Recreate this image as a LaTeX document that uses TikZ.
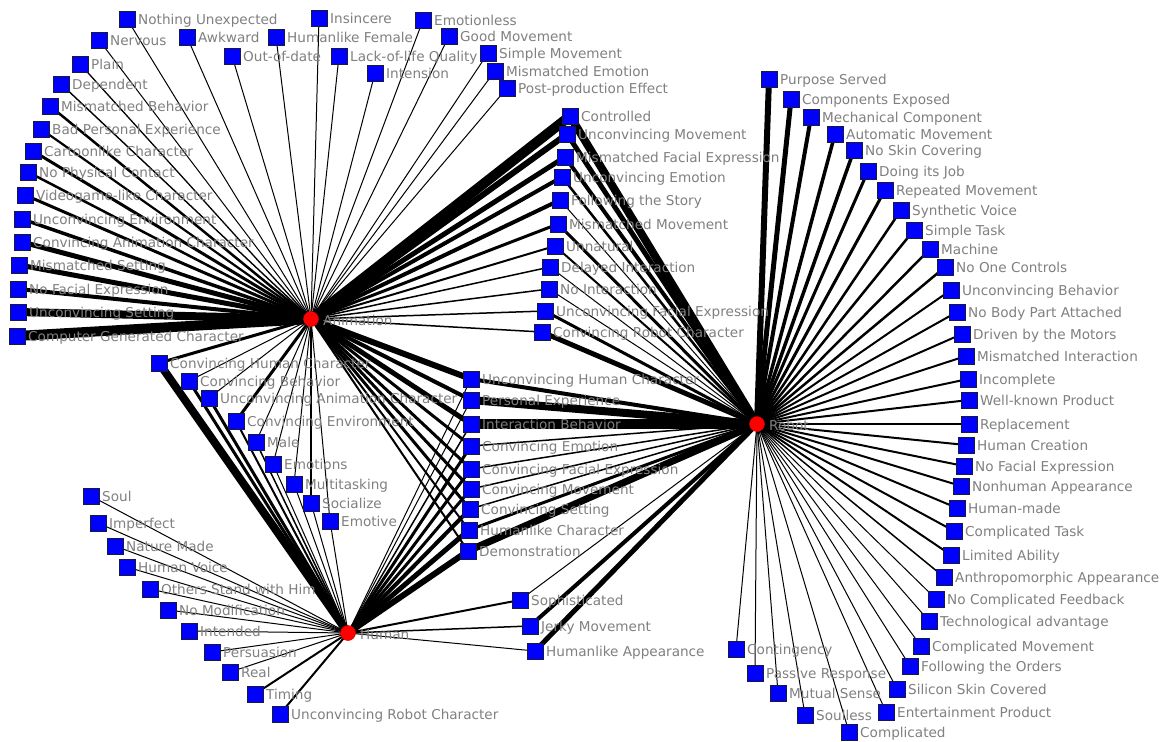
\documentclass[tikz,border=0pt]{standalone}
\usepackage{fontspec}
\setmainfont{DejaVu Sans}
\pgfdeclarelayer{bg}
\pgfsetlayers{bg,main}
\definecolor{sqblue}{RGB}{0,0,255}
\definecolor{sqedge}{RGB}{25,25,60}
\definecolor{labgray}{RGB}{128,128,128}
\tikzset{
  sq/.style={rectangle, minimum size=16pt, inner sep=0pt, fill=sqblue, draw=sqedge, line width=0.9pt},
  hub/.style={circle, minimum size=15pt, inner sep=0pt, fill=red, draw=red!85!black, line width=0.5pt},
  lab/.style={anchor=base west, inner sep=0pt, text=labgray, font=\fontsize{13.6}{16}\selectfont},
  edge/.style={draw=black, line cap=butt}
}
\newcommand\leaf[4]{\node[sq] (#1) at (#2,#3) {}; \node[lab] (#1-t) at (#2+11,#3+5) {#4};}
\newcommand\ed[3]{\draw[edge, line width=#3pt] (#1.center) -- (#2.center);}
\begin{document}
\begin{tikzpicture}[x=1pt,y=-1pt]
\useasboundingbox (0,0) rectangle (1171,742);
% hubs
\node[hub] (anim) at (311,319) {};
\node[lab] (anim-t) at (311+12,319+6) {Animation};
\node[hub] (robot) at (757,424) {};
\node[lab] (robot-t) at (757+12,424+6) {Robot};
\node[hub] (human) at (348,633) {};
\node[lab] (human-t) at (348+12,633+6) {Human};
% Animation only
\leaf{a1}{127}{19}{Nothing Unexpected}
\leaf{a2}{99}{40}{Nervous}
\leaf{a3}{187}{37}{Awkward}
\leaf{a4}{276}{37}{Humanlike Female}
\leaf{a5}{319}{18}{Insincere}
\leaf{a6}{232}{56}{Out-of-date}
\leaf{a7}{339}{56}{Lack-of-life Quality}
\leaf{a8}{423}{20}{Emotionless}
\leaf{a9}{449}{36}{Good Movement}
\leaf{a10}{375}{73}{Intension}
\leaf{a11}{488}{53}{Simple Movement}
\leaf{a12}{495}{71}{Mismatched Emotion}
\leaf{a13}{507}{88}{Post-production Effect}
\leaf{a14}{80}{64}{Plain}
\leaf{a15}{61}{84}{Dependent}
\leaf{a16}{50}{106}{Mismatched Behavior}
\leaf{a17}{41}{129}{Bad Personal Experience}
\leaf{a18}{33}{151}{Cartoonlike Character}
\leaf{a19}{28}{172}{No Physical Contact}
\leaf{a20}{25}{195}{Videogame-like Character}
\leaf{a21}{22}{219}{Unconvincing Environment}
\leaf{a22}{22}{242}{Convincing Animation Character}
\leaf{a23}{19}{265}{Mismatched Setting}
\leaf{a24}{18}{289}{No Facial Expression}
\leaf{a25}{18}{312}{Unconvincing Setting}
\leaf{a26}{17}{336}{Computer Generated Character}
% Animation & Robot
\leaf{ar1}{570}{116}{Controlled}
\leaf{ar2}{567}{134}{Unconvincing Movement}
\leaf{ar3}{565}{157}{Mismatched Facial Expression}
\leaf{ar4}{562}{177}{Unconvincing Emotion}
\leaf{ar5}{560}{200}{Following the Story}
\leaf{ar6}{558}{224}{Mismatched Movement}
\leaf{ar7}{555}{246}{Unnatural}
\leaf{ar8}{550}{267}{Delayed Interaction}
\leaf{ar9}{549}{289}{No Interaction}
\leaf{ar10}{545}{311}{Unconvincing Facial Expression}
\leaf{ar11}{542}{332}{Convincing Robot Character}
% Animation & Human
\leaf{ah1}{159}{363}{Convincing Human Character}
\leaf{ah2}{189}{381}{Convincing Behavior}
\leaf{ah3}{209}{398}{Unconvincing Animation Character}
\leaf{ah4}{236}{421}{Convincing Environment}
\leaf{ah5}{256}{442}{Male}
\leaf{ah6}{273}{464}{Emotions}
\leaf{ah7}{294}{484}{Multitasking}
\leaf{ah8}{311}{503}{Socialize}
\leaf{ah9}{330}{521}{Emotive}
% all three
\leaf{m1}{471}{379}{Unconvincing Human Character}
\leaf{m2}{471}{400}{Personal Experience}
\leaf{m3}{471}{424}{Interaction Behavior}
\leaf{m4}{471}{446}{Convincing Emotion}
\leaf{m5}{471}{469}{Convincing Facial Expression}
\leaf{m6}{471}{489}{Convincing Movement}
\leaf{m7}{470}{509}{Convincing Setting}
\leaf{m8}{469}{530}{Humanlike Character}
\leaf{m9}{468}{551}{Demonstration}
% Human only
\leaf{h1}{91}{496}{Soul}
\leaf{h2}{98}{523}{Imperfect}
\leaf{h3}{115}{546}{Nature Made}
\leaf{h4}{127}{567}{Human Voice}
\leaf{h5}{150}{589}{Others Stand with Him}
\leaf{h6}{168}{610}{No Modification}
\leaf{h7}{189}{631}{Intended}
\leaf{h8}{212}{652}{Persuasion}
\leaf{h9}{230}{672}{Real}
\leaf{h10}{255}{694}{Timing}
\leaf{h11}{280}{714}{Unconvincing Robot Character}
% Human & Robot
\leaf{hr1}{520}{600}{Sophisticated}
\leaf{hr2}{530}{626}{Jerky Movement}
\leaf{hr3}{535}{651}{Humanlike Appearance}
% Robot only
\leaf{r1}{769}{79}{Purpose Served}
\leaf{r2}{791}{99}{Components Exposed}
\leaf{r3}{811}{117}{Mechanical Component}
\leaf{r4}{835}{134}{Automatic Movement}
\leaf{r5}{854}{150}{No Skin Covering}
\leaf{r6}{868}{171}{Doing its Job}
\leaf{r7}{885}{190}{Repeated Movement}
\leaf{r8}{901}{210}{Synthetic Voice}
\leaf{r9}{914}{230}{Simple Task}
\leaf{r10}{930}{249}{Machine}
\leaf{r11}{945}{267}{No One Controls}
\leaf{r12}{951}{290}{Unconvincing Behavior}
\leaf{r13}{957}{312}{No Body Part Attached}
\leaf{r14}{962}{334}{Driven by the Motors}
\leaf{r15}{966}{356}{Mismatched Interaction}
\leaf{r16}{968}{379}{Incomplete}
\leaf{r17}{969}{400}{Well-known Product}
\leaf{r18}{969}{424}{Replacement}
\leaf{r19}{966}{445}{Human Creation}
\leaf{r20}{964}{466}{No Facial Expression}
\leaf{r21}{961}{486}{Nonhuman Appearance}
\leaf{r22}{957}{508}{Human-made}
\leaf{r23}{954}{531}{Complicated Task}
\leaf{r24}{951}{555}{Limited Ability}
\leaf{r25}{944}{577}{Anthropomorphic Appearance}
\leaf{r26}{936}{599}{No Complicated Feedback}
\leaf{r27}{929}{621}{Technological advantage}
\leaf{r28}{921}{646}{Complicated Movement}
\leaf{r29}{910}{666}{Following the Orders}
\leaf{r30}{897}{689}{Silicon Skin Covered}
\leaf{r31}{886}{712}{Entertainment Product}
\leaf{r32}{849}{732}{Complicated}
\leaf{r33}{805}{715}{Soulless}
\leaf{r34}{778}{693}{Mutual Sense}
\leaf{r35}{755}{673}{Passive Response}
\leaf{r36}{736}{649}{Contingency}
\begin{pgfonlayer}{bg}
\fill[white] (0,0) rectangle (1171,742);
% Animation edges
\ed{anim}{a1}{1}\ed{anim}{a2}{1}\ed{anim}{a3}{1}\ed{anim}{a4}{1}\ed{anim}{a5}{1}
\ed{anim}{a6}{1}\ed{anim}{a7}{1}\ed{anim}{a8}{1}\ed{anim}{a9}{1}\ed{anim}{a10}{1}
\ed{anim}{a11}{1}\ed{anim}{a12}{1}\ed{anim}{a13}{1}\ed{anim}{a14}{1.3}\ed{anim}{a15}{1.4}
\ed{anim}{a16}{2.5}\ed{anim}{a17}{2.2}\ed{anim}{a18}{3}\ed{anim}{a19}{2.5}\ed{anim}{a20}{3}
\ed{anim}{a21}{3.5}\ed{anim}{a22}{5}\ed{anim}{a23}{5}\ed{anim}{a24}{4}\ed{anim}{a25}{8}
\ed{anim}{a26}{10}
% Animation & Robot
\ed{anim}{ar1}{10}\ed{robot}{ar1}{8}
\ed{anim}{ar2}{6}\ed{robot}{ar2}{5}
\ed{anim}{ar3}{5}\ed{robot}{ar3}{4}
\ed{anim}{ar4}{4}\ed{robot}{ar4}{2.5}
\ed{anim}{ar5}{4}\ed{robot}{ar5}{1}
\ed{anim}{ar6}{3}\ed{robot}{ar6}{3}
\ed{anim}{ar7}{2}\ed{robot}{ar7}{2}
\ed{anim}{ar8}{1.5}\ed{robot}{ar8}{1}
\ed{anim}{ar9}{1.5}\ed{robot}{ar9}{1}
\ed{anim}{ar10}{1.5}\ed{robot}{ar10}{3}
\ed{anim}{ar11}{1.5}\ed{robot}{ar11}{5}
% Animation & Human
\ed{anim}{ah1}{3}\ed{human}{ah1}{8}
\ed{anim}{ah2}{1}\ed{human}{ah2}{3}
\ed{anim}{ah3}{1}\ed{human}{ah3}{3}
\ed{anim}{ah4}{3}\ed{human}{ah4}{2}
\ed{anim}{ah5}{1}\ed{human}{ah5}{1.5}
\ed{anim}{ah6}{1}\ed{human}{ah6}{1}
\ed{anim}{ah7}{1}\ed{human}{ah7}{1}
\ed{anim}{ah8}{1.5}\ed{human}{ah8}{1}
\ed{anim}{ah9}{1}\ed{human}{ah9}{1}
% three-way
\ed{anim}{m1}{6}\ed{robot}{m1}{4}\ed{human}{m1}{1}
\ed{anim}{m2}{4}\ed{robot}{m2}{8}\ed{human}{m2}{1}
\ed{anim}{m3}{5}\ed{robot}{m3}{10}\ed{human}{m3}{1.5}
\ed{anim}{m4}{3}\ed{robot}{m4}{1.5}\ed{human}{m4}{3}
\ed{anim}{m5}{3}\ed{robot}{m5}{1.5}\ed{human}{m5}{3}
\ed{anim}{m6}{3}\ed{robot}{m6}{1.5}\ed{human}{m6}{3}
\ed{anim}{m7}{3}\ed{robot}{m7}{1.5}\ed{human}{m7}{4}
\ed{anim}{m8}{2}\ed{robot}{m8}{3}\ed{human}{m8}{5}
\ed{anim}{m9}{2}\ed{robot}{m9}{7}\ed{human}{m9}{6}
% Human only
\ed{human}{h1}{1}\ed{human}{h2}{1}\ed{human}{h3}{1}\ed{human}{h4}{1}\ed{human}{h5}{1}
\ed{human}{h6}{1}\ed{human}{h7}{1}\ed{human}{h8}{1}\ed{human}{h9}{1}\ed{human}{h10}{2}
\ed{human}{h11}{2}
% Human & Robot
\ed{human}{hr1}{2}\ed{robot}{hr1}{1}
\ed{human}{hr2}{1.5}\ed{robot}{hr2}{4}
\ed{human}{hr3}{1}\ed{robot}{hr3}{5}
% Robot only
\ed{robot}{r1}{6}\ed{robot}{r2}{5}\ed{robot}{r3}{4}\ed{robot}{r4}{3.5}\ed{robot}{r5}{3.5}
\ed{robot}{r6}{3}\ed{robot}{r7}{3}\ed{robot}{r8}{2.5}\ed{robot}{r9}{2.5}\ed{robot}{r10}{2.5}
\ed{robot}{r11}{2.5}\ed{robot}{r12}{2}\ed{robot}{r13}{2}\ed{robot}{r14}{2}\ed{robot}{r15}{2}
\ed{robot}{r16}{2}\ed{robot}{r17}{2}\ed{robot}{r18}{2}\ed{robot}{r19}{2}\ed{robot}{r20}{2}
\ed{robot}{r21}{2}\ed{robot}{r22}{2}\ed{robot}{r23}{2}\ed{robot}{r24}{2}\ed{robot}{r25}{1.5}
\ed{robot}{r26}{1}\ed{robot}{r27}{1}\ed{robot}{r28}{1}\ed{robot}{r29}{1}\ed{robot}{r30}{1}
\ed{robot}{r31}{1}\ed{robot}{r32}{1}\ed{robot}{r33}{1}\ed{robot}{r34}{1}\ed{robot}{r35}{1}
\ed{robot}{r36}{1}
\end{pgfonlayer}
\end{tikzpicture}
\end{document}
